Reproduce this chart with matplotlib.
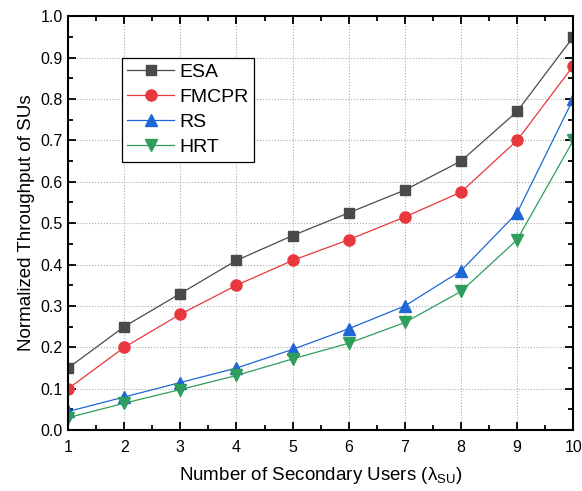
import matplotlib as mpl
mpl.use('Agg')
import numpy as np
import matplotlib.pyplot as plt
from matplotlib.ticker import MultipleLocator

plt.rcParams['font.family'] = ['Liberation Sans', 'DejaVu Sans']
plt.rcParams['mathtext.fontset'] = 'custom'
plt.rcParams['mathtext.rm'] = 'Liberation Sans'

users = [1, 2, 3, 4, 5, 6, 7, 8, 9, 10]
esa = [0.15, 0.25, 0.33, 0.41, 0.47, 0.525, 0.58, 0.65, 0.77, 0.95]
fmcpr = [0.10, 0.20, 0.28, 0.35, 0.41, 0.46, 0.515, 0.575, 0.70, 0.88]
rs = [0.045, 0.08, 0.115, 0.15, 0.195, 0.245, 0.30, 0.385, 0.525, 0.80]
hrt = [0.03, 0.065, 0.098, 0.132, 0.172, 0.21, 0.26, 0.335, 0.46, 0.70]

fig = plt.figure(figsize=(5.82, 4.91), dpi=100)
ax = fig.add_axes([0.117, 0.124, 0.868, 0.843])

ax.plot(users, esa, c='#4a4a4a', lw=0.9, marker='s', ms=7, label='ESA')
ax.plot(users, fmcpr, c='#e8383d', lw=0.9, marker='o', ms=8, label='FMCPR')
ax.plot(users, rs, c='#1f66d6', lw=0.9, marker='^', ms=8, label='RS')
ax.plot(users, hrt, c='#2e9e5b', lw=0.9, marker='v', ms=8, label='HRT')

ax.set_xlim(1, 10)
ax.set_ylim(0, 1.0)
ax.xaxis.set_major_locator(MultipleLocator(1))
ax.xaxis.set_minor_locator(MultipleLocator(0.5))
ax.yaxis.set_minor_locator(MultipleLocator(0.05))
ax.set_yticks(np.arange(0, 1.01, 0.1))
ax.set_yticklabels(['%.1f' % v for v in np.arange(0, 1.01, 0.1)])
ax.tick_params(which='both', direction='in', top=True, right=True, labelsize=11.5, width=1.3)
ax.tick_params(which='major', length=6)
ax.tick_params(which='minor', length=3.5)
ax.tick_params(axis='x', pad=7)
ax.tick_params(axis='y', pad=4)
for s in ax.spines.values():
    s.set_linewidth(1.5)
ax.grid(True, which='major', ls=':', c='#aaaaaa', lw=0.8)

ax.set_xlabel('Number of Secondary Users (λ$_{\\mathrm{SU}}$)', fontsize=13.5, labelpad=7)
ax.set_ylabel('Normalized Throughput of SUs', fontsize=13.5, labelpad=4)

leg = ax.legend(loc='upper left', bbox_to_anchor=(0.106, 0.9), fontsize=14, fancybox=False,
                edgecolor='black', framealpha=1, handlelength=2.4, borderpad=0.3,
                labelspacing=0.38, handletextpad=0.25, borderaxespad=0)
leg.get_frame().set_linewidth(0.9)

plt.savefig('out.png', dpi=100)
